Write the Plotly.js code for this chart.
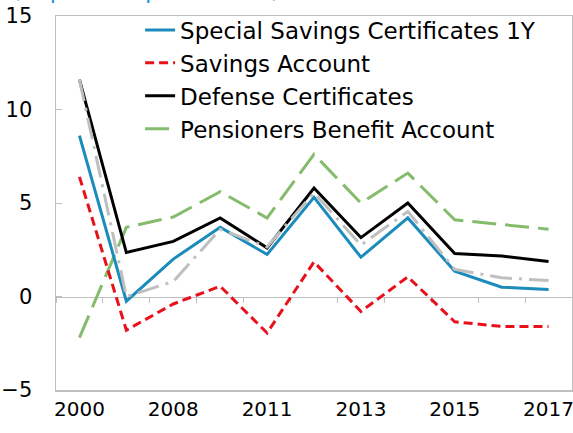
<!DOCTYPE html>
<html>
<head>
<meta charset="utf-8">
<script src="https://cdn.plot.ly/plotly-3.0.1.min.js"></script>
<style>html,body{margin:0;padding:0;background:#fff;}#chart{width:573px;height:433px;}</style>
</head>
<body>
<div id="chart"></div>
<script>
const categories = ['2000','2007','2008','2010','2011','2012','2013','2014','2015','2016','2017'];
const tickLabels = ['2000','2008','2011','2013','2015','2017'];

const specialSavings1Y = [8.6, -0.25, 2.0, 3.7, 2.25, 5.3, 2.1, 4.2, 1.35, 0.5, 0.37];
const savingsAccount   = [6.4, -1.8, -0.4, 0.55, -1.95, 1.85, -0.8, 1.05, -1.35, -1.6, -1.6];
const defenseCerts     = [11.6, 2.35, 2.95, 4.2, 2.6, 5.8, 3.15, 5.0, 2.3, 2.17, 1.87];
const pensionersBenefit= [-2.2, 3.7, 4.25, 5.6, 4.2, 7.6, 5.0, 6.6, 4.1, 3.85, 3.6];
const otherRate        = [11.6, 0.0, 0.8, 3.6, 2.65, 5.55, 2.75, 4.55, 1.45, 1.0, 0.85];

const seriesNames = ['Special Savings Certificates 1Y','Savings Account','Defense Certificates','Pensioners Benefit Account'];

const traces = [
  {x: categories, y: otherRate, xaxis: 'x2', yaxis: 'y', type: 'scatter', mode: 'lines', showlegend: false,
   line: {color: '#bfbfbf', width: 3, dash: '22px,7px,3px,7px'}},
  {x: categories, y: pensionersBenefit, name: seriesNames[3], type: 'scatter', mode: 'lines',
   line: {color: '#84bc6c', width: 3, dash: '24px,9px'}},
  {x: categories, y: defenseCerts, name: seriesNames[2], type: 'scatter', mode: 'lines',
   line: {color: '#000000', width: 3}},
  {x: categories, y: savingsAccount, name: seriesNames[1], type: 'scatter', mode: 'lines',
   line: {color: '#e8101a', width: 3, dash: '9px,5px'}},
  {x: categories, y: specialSavings1Y, name: seriesNames[0], type: 'scatter', mode: 'lines',
   line: {color: '#1a8bba', width: 3}}
];

const axisGray = '#bfbfbf';
const layout = {
  width: 573, height: 433,
  margin: {l: 56, r: 1, t: 16, b: 43},
  paper_bgcolor: '#fff', plot_bgcolor: '#fff',
  font: {family: 'DejaVu Sans, sans-serif', color: '#000', size: 20},
  showlegend: true,
  legend: {x: 0.163, xanchor: 'left', y: 1.02, yanchor: 'top', traceorder: 'reversed',
           bgcolor: 'rgba(0,0,0,0)', borderwidth: 0, font: {size: 23, color: '#000'}},
  xaxis: {type: 'category', range: [-0.5, 10.5], tickmode: 'array', tickvals: tickLabels, ticktext: tickLabels,
          showline: true, mirror: true, linecolor: axisGray, linewidth: 1.5, ticks: '', showgrid: false,
          zeroline: false, tickfont: {size: 20}, fixedrange: true},
  xaxis2: {type: 'category', overlaying: 'x', anchor: 'free', position: 0.25, range: [-0.5, 10.5],
           tickmode: 'linear', dtick: 1, tickson: 'boundaries', ticks: 'outside', ticklen: 5, tickcolor: axisGray,
           showline: true, linecolor: axisGray, linewidth: 1.5, showticklabels: false, showgrid: false,
           layer: 'below traces'},
  yaxis: {range: [-5, 15], tickmode: 'linear', tick0: -5, dtick: 5, ticks: 'inside', ticklen: 6, tickcolor: axisGray,
          showline: true, mirror: true, linecolor: axisGray, linewidth: 1.5, showgrid: false, zeroline: false,
          ticklabelstandoff: 18, tickfont: {size: 21}},
  annotations: [{text: '(In percent per annum)', xref: 'paper', yref: 'paper', x: -0.09, y: 1.03,
                 xanchor: 'left', yanchor: 'bottom', showarrow: false, font: {size: 23, color: '#1a9bd0'}}]
};

Plotly.newPlot('chart', traces, layout, {displayModeBar: false, staticPlot: true});
</script>
</body>
</html>
